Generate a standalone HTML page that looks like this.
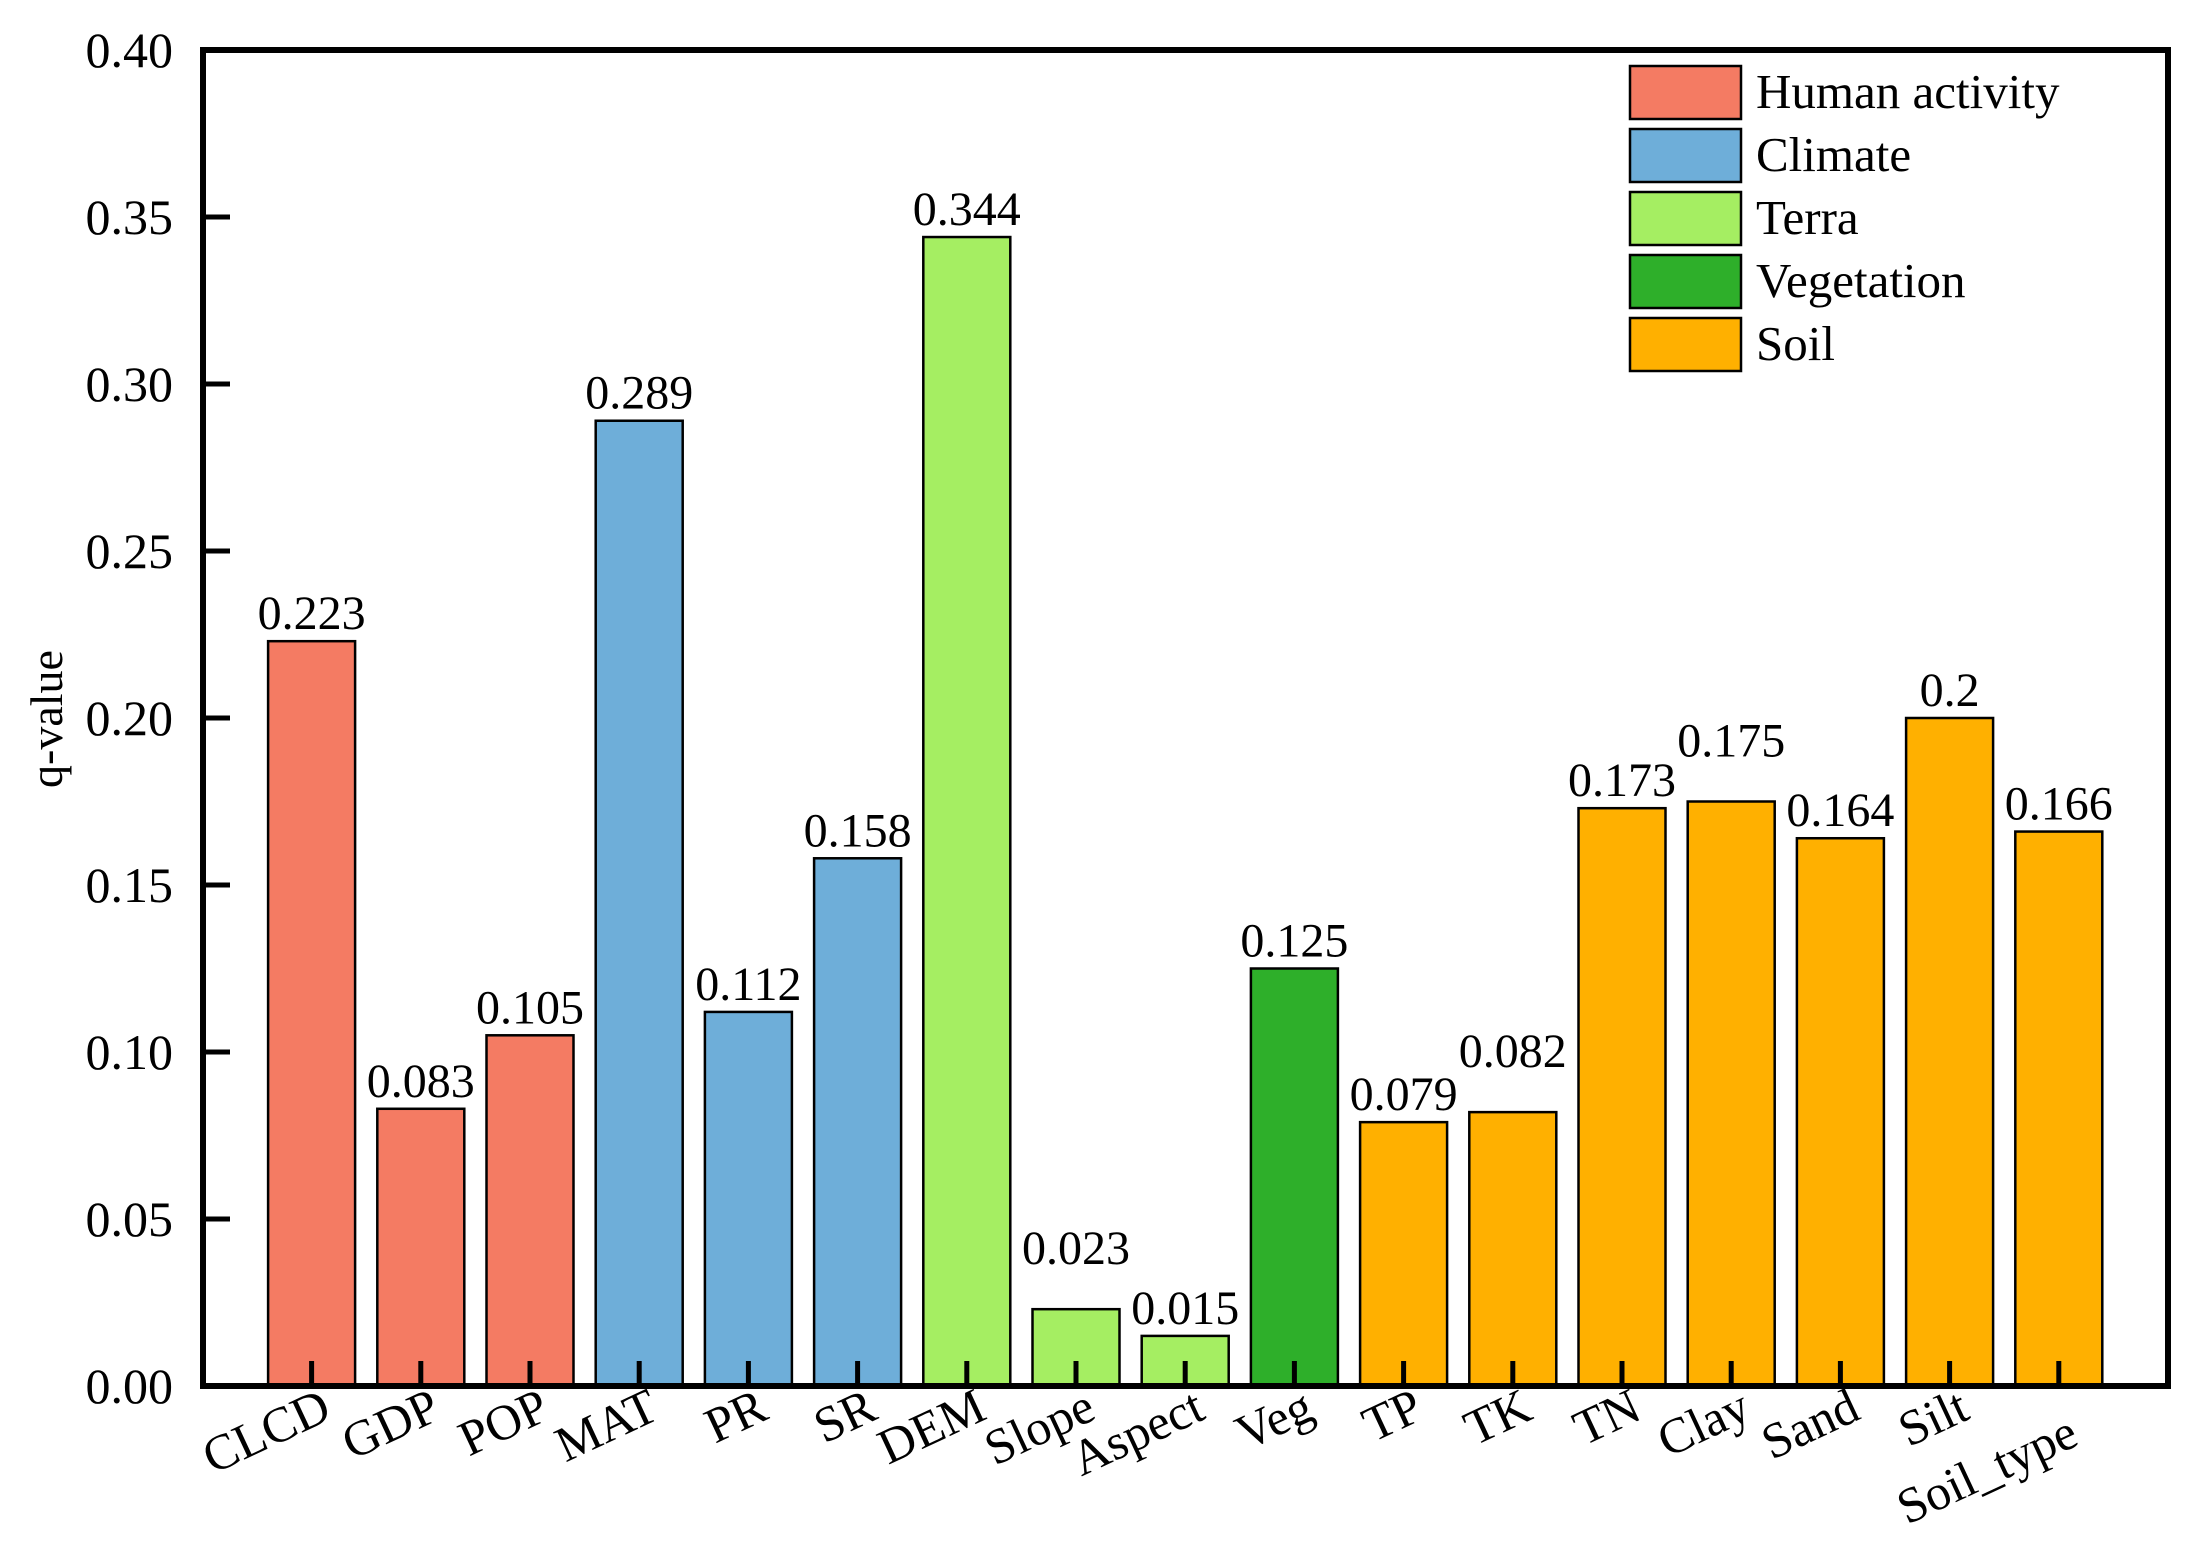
<!DOCTYPE html>
<html><head><meta charset="utf-8"><style>
body{margin:0;background:#fff}
svg{display:block;font-family:"Liberation Serif",serif}
</style></head><body>
<svg id="chart" width="2201" height="1550" xmlns="http://www.w3.org/2000/svg">
<rect width="2201" height="1550" fill="#fff"/>
<g id="bars"></g>
<g id="yticks"></g>
<g id="xticks"></g>
<rect x="203" y="50" width="1965" height="1336" fill="none" stroke="#000" stroke-width="6"/>
<text x="62" y="719" font-size="46" text-anchor="middle" transform="rotate(-90 62 719)">q-value</text>
<g id="legend"></g>
</svg>
<script>
const categories=["CLCD","GDP","POP","MAT","PR","SR","DEM","Slope","Aspect","Veg","TP","TK","TN","Clay","Sand","Silt","Soil_type"];
const values=[0.223,0.083,0.105,0.289,0.112,0.158,0.344,0.023,0.015,0.125,0.079,0.082,0.173,0.175,0.164,0.2,0.166];
const valueLabels=["0.223","0.083","0.105","0.289","0.112","0.158","0.344","0.023","0.015","0.125","0.079","0.082","0.173","0.175","0.164","0.2","0.166"];
const raisedLabel=[0,0,0,0,0,0,0,1,0,0,0,1,0,1,0,0,0];
const groups=[0,0,0,1,1,1,2,2,2,3,4,4,4,4,4,4,4];
const groupNames=["Human activity","Climate","Terra","Vegetation","Soil"];
const groupColors=["#F47B63","#6EAED9","#A5EE62","#2EAF2A","#FFB000"];
const yTicks=[0,0.05,0.10,0.15,0.20,0.25,0.30,0.35,0.40];
const yTickLabels=["0.00","0.05","0.10","0.15","0.20","0.25","0.30","0.35","0.40"];
const NS="http://www.w3.org/2000/svg";
const y0=1386,y1=50,yMax=0.4;
const yS=v=>y0-(v/yMax)*(y0-y1);
const xS=i=>311.6+i*109.2;
const bw=87;
function mk(tag,attrs,parent){const e=document.createElementNS(NS,tag);for(const k in attrs)e.setAttribute(k,attrs[k]);parent.appendChild(e);return e;}
const bars=document.getElementById('bars'),yt=document.getElementById('yticks'),xt=document.getElementById('xticks'),lg=document.getElementById('legend');
values.forEach((v,i)=>{
  const cx=xS(i);
  const r=mk('rect',{x:cx-bw/2,y:yS(v),width:bw,height:y0-yS(v),fill:groupColors[groups[i]],stroke:'#000','stroke-width':2.5},bars);
  
  
  const t=mk('text',{x:cx,y:yS(v)-12-(raisedLabel[i]?33:0),'font-size':48,'text-anchor':'middle'},bars);
  t.textContent=valueLabels[i];
  
  
  const tk=mk('line',{x1:cx,x2:cx,y1:y0,y2:y0-25,stroke:'#000','stroke-width':5},xt);
  
  
  const ly=categories[i]==="Soil_type"?1444:1418;
  const lx=cx+22;
  const l=mk('text',{x:lx,y:ly,'font-size':50,'text-anchor':'end',transform:`rotate(-25 ${lx} ${ly})`},xt);
  l.textContent=categories[i];
  
  
});
yTicks.forEach((v,i)=>{
  const y=yS(v);
  const tk=mk('line',{x1:203,x2:230,y1:y,y2:y,stroke:'#000','stroke-width':5},yt);
  
  
  const t=mk('text',{x:173,y:y+17,'font-size':50,'text-anchor':'end'},yt);
  t.textContent=yTickLabels[i];
  
  
});
groupNames.forEach((n,i)=>{
  const y=66+i*63;
  const r=mk('rect',{x:1630,y:y,width:111,height:53,fill:groupColors[i],stroke:'#000','stroke-width':2.5},lg);
  
  
  const t=mk('text',{x:1756,y:y+42,'font-size':49},lg);
  t.textContent=n;
  
  
});
</script>
</body></html>
